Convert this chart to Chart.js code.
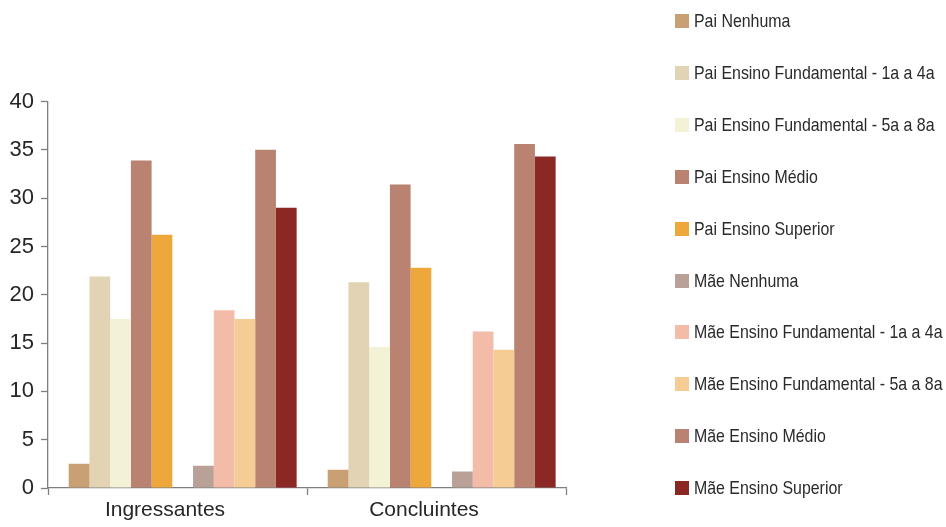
<!DOCTYPE html>
<html lang="pt">
<head>
<meta charset="utf-8">
<title>Escolaridade dos pais</title>
<script src="https://cdn.jsdelivr.net/npm/chart.js@4/dist/chart.umd.min.js"></script>
<style>
    html, body { margin: 0; padding: 0; background: #fff; }
    #wrap { position: relative; width: 946px; height: 527px; overflow: hidden; }
    #escolaridadeChart { position: absolute; left: 0; top: 0; }
    #legend { position: absolute; left: 675px; top: 0; margin: 0; padding: 0; list-style: none; }
    #legend li {
        position: absolute; left: 0; height: 20px; white-space: nowrap;
        font-family: 'Liberation Sans', Arial, sans-serif;
        font-size: 18.5px; line-height: 20px; color: #2a2a2a;
    }
    #legend li span.box { position: absolute; left: 0; top: 3px; width: 14px; height: 14px; }
    #legend li span.txt {
        position: absolute; left: 19px; top: 0;
        transform: scaleX(0.86); transform-origin: left center;
    }
</style>
</head>
<body>
<div id="wrap">
    <canvas id="escolaridadeChart" width="946" height="527"></canvas>
    <ul id="legend"></ul>
</div>
<script>
const categories = ['Ingressantes', 'Concluintes'];

const seriesNames = [
    'Pai Nenhuma',
    'Pai Ensino Fundamental - 1a a 4a',
    'Pai Ensino Fundamental - 5a a 8a',
    'Pai Ensino Médio',
    'Pai Ensino Superior',
    'Mãe Nenhuma',
    'Mãe Ensino Fundamental - 1a a 4a',
    'Mãe Ensino Fundamental - 5a a 8a',
    'Mãe Ensino Médio',
    'Mãe Ensino Superior',
];

// percentuais [Ingressantes, Concluintes]
const paiNenhuma = [2.5, 1.9];
const paiFund14 = [21.9, 21.3];
const paiFund58 = [17.5, 14.6];
const paiMedio = [33.9, 31.4];
const paiSuperior = [26.2, 22.8];
const maeNenhuma = [2.3, 1.7];
const maeFund14 = [18.4, 16.2];
const maeFund58 = [17.5, 14.3];
const maeMedio = [35.0, 35.6];
const maeSuperior = [29.0, 34.3];

const seriesValues = [
    paiNenhuma, paiFund14, paiFund58, paiMedio, paiSuperior,
    maeNenhuma, maeFund14, maeFund58, maeMedio, maeSuperior,
];

const seriesColors = [
    '#c9a073', '#e3d3b5', '#f3f2d6', '#b98271', '#eea73a',
    '#baa198', '#f3bca8', '#f5cc94', '#b98271', '#8b2824',
];

const yTicks = [0, 5, 10, 15, 20, 25, 30, 35, 40];

const axisColor = '#7f7f7f';

const toPoints = (values) => values.map((v, i) => ({ x: i, y: v }));

const makeDataset = (i) => ({
    label: seriesNames[i],
    data: toPoints(seriesValues[i]),
    backgroundColor: seriesColors[i],
    borderWidth: 0,
    xAxisID: 'xb',
    barPercentage: 1,
    categoryPercentage: 0.88,
});

// empty slot between the Pai and Mãe groups
const spacer = {
    label: '',
    data: [],
    xAxisID: 'xb',
    barPercentage: 1,
    categoryPercentage: 0.88,
};

const datasets = [];
for (let i = 0; i < 5; i++) datasets.push(makeDataset(i));
datasets.push(spacer);
for (let i = 5; i < 10; i++) datasets.push(makeDataset(i));

const ctx = document.getElementById('escolaridadeChart');

const chart = new Chart(ctx, {
    type: 'bar',
    data: {
        labels: categories,
        datasets: datasets,
    },
    options: {
        responsive: false,
        animation: false,
        layout: {
            padding: { top: 101.5, right: 380, bottom: 0, left: 0 },
        },
        scales: {
            // bar positions: one unit per category
            xb: {
                type: 'linear',
                display: false,
                offset: false,
                min: -0.52,
                max: 1.48,
                afterBuildTicks: (scale) => { scale.ticks = categories.map((_, i) => ({ value: i })); },
            },
            x: {
                type: 'category',
                position: 'bottom',
                offset: true,
                afterFit: (scale) => { scale.height = 39; },
                grid: {
                    offset: true,
                    drawOnChartArea: false,
                    drawTicks: true,
                    tickLength: 7,
                    tickColor: axisColor,
                    tickWidth: 1.3,
                },
                border: { display: true, color: axisColor, width: 1.3 },
                ticks: {
                    color: '#262626',
                    padding: 3,
                    labelOffset: -12.5,
                    font: { family: "'Liberation Sans', Arial, sans-serif", size: 21 },
                },
            },
            y: {
                min: 0,
                max: 40,
                afterFit: (scale) => { scale.width = 48; },
                afterBuildTicks: (scale) => { scale.ticks = yTicks.map(v => ({ value: v })); },
                grid: {
                    drawOnChartArea: false,
                    drawTicks: true,
                    tickLength: 7,
                    tickColor: axisColor,
                    tickWidth: 1.3,
                },
                border: { display: true, color: axisColor, width: 1.3 },
                ticks: {
                    color: '#262626',
                    padding: 7,
                    font: { family: "'Liberation Sans', Arial, sans-serif", size: 22 },
                },
            },
        },
        plugins: {
            legend: { display: false },
            tooltip: { enabled: false },
        },
    },
});

// legend list on the right, built from the chart's own datasets
const legendEl = document.getElementById('legend');
chart.data.datasets
    .filter(ds => ds.label)
    .forEach((ds, i) => {
        const li = document.createElement('li');
        li.style.top = (11 + i * 51.9) + 'px';
        li.innerHTML = `<span class="box" style="background:${ds.backgroundColor}"></span><span class="txt">${ds.label}</span>`;
        legendEl.appendChild(li);
    });
</script>
</body>
</html>
